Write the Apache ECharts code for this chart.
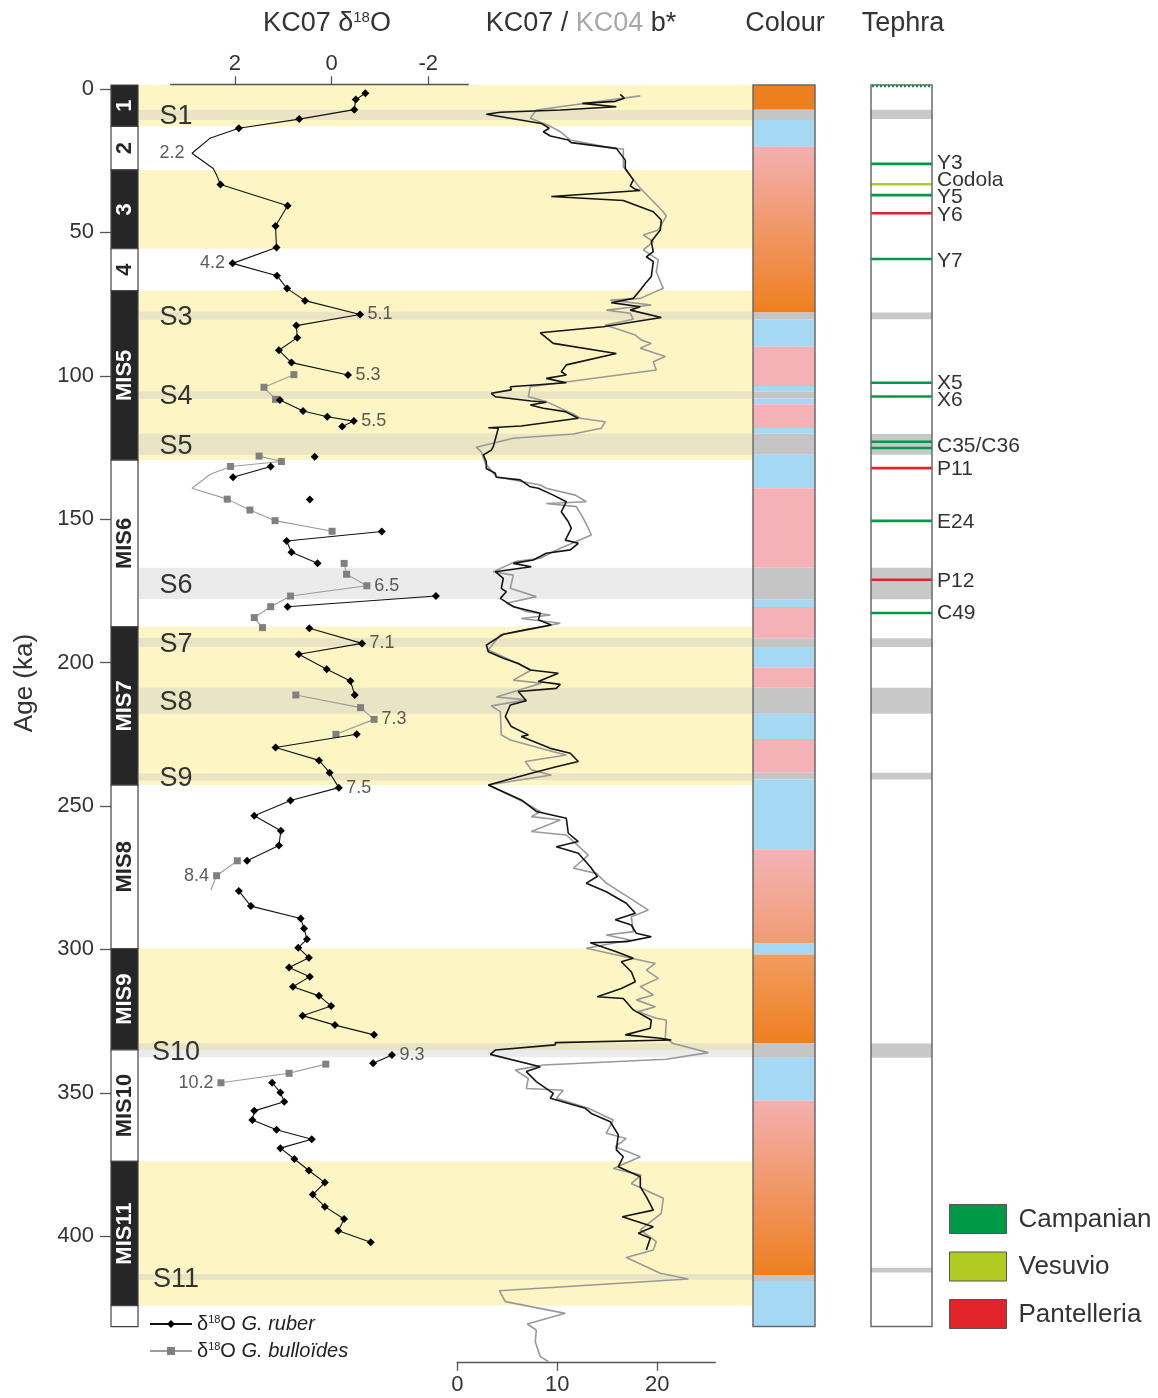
<!DOCTYPE html>
<html>
<head>
<meta charset="utf-8">
<title>KC07 stratigraphy</title>
<script src="https://cdn.jsdelivr.net/npm/echarts@6/dist/echarts.min.js"></script>
<style>
  html, body { margin: 0; padding: 0; background: #fff; }
  #chart { width: 1158px; height: 1398px; }
</style>
</head>
<body>
<div id="chart"></div>
<script>
// ---------- data (ages in ka) ----------
// marine isotope stages
const misLabel  = ['1', '2', '3', '4', 'MIS5', 'MIS6', 'MIS7', 'MIS8', 'MIS9', 'MIS10', 'MIS11', ''];
const misTop    = [-1.4, 13.0, 28.2, 55.7, 70.3, 129.4, 187.5, 242.7, 299.7, 335.0, 373.9, 424.2];
const misBottom = [13.0, 28.2, 55.7, 70.3, 129.4, 187.5, 242.7, 299.7, 335.0, 373.9, 424.2, 431.5];
const misWarm   = [1, 0, 1, 0, 1, 0, 1, 0, 1, 0, 1, 0];

// sapropels
const sapName   = ['S1', 'S3', 'S4', 'S5', 'S6', 'S7', 'S8', 'S9', 'S10', 'S11'];
const sapTop    = [7.3, 77.7, 105.4, 120.2, 166.9, 191.4, 208.8, 238.7, 332.7, 413.2];
const sapBottom = [10.8, 80.5, 108.0, 127.5, 177.8, 194.5, 217.8, 241.0, 337.6, 415.3];

// d18O G. ruber (null = gap in the record)
const ruberAge = [1.5, 3.7, 7.2, 10.5, 13.7, 17.2, 22.4, 27.7, 30.0, 33.3, 40.7, 47.8, 55.3, 60.8, 65.1, 69.6, 73.8, 78.6, 82.5, 86.7, 91.1, 95.4, 99.7, null,
  108.4, 112.3, 114.3, 115.8, 117.7, null, 128.2, null, 131.6, 135.4, null, 143.1, null, 154.3, 157.6, 161.5, 165.4, null, 176.8, 180.5, null,
  188.0, 193.3, 197.1, 202.3, 206.4, 211.3, null, 225.0, 229.6, 234.1, 238.4, 243.6, 248.1, 253.4, 258.6, 263.8, 269.1, null,
  279.6, 284.9, 289.2, 292.7, 296.5, 299.4, 302.9, 306.3, 309.5, 313.0, 316.2, 319.7, 323.1, 326.4, 329.8, null, 336.8, 339.7, null,
  346.5, 349.9, 353.1, 356.3, 359.5, 362.9, 366.2, 369.3, 373.1, 377.1, 381.3, 385.5, 389.7, 394.0, 398.1, 402.1];
const ruberD18O = [-0.70, -0.50, -0.47, 0.67, 1.92, 2.52, 2.89, 2.45, 2.38, 2.30, 0.91, 1.16, 1.14, 2.05, 1.13, 0.92, 0.55, -0.59, 0.73, 0.71, 1.09, 0.83, -0.34, null,
  1.07, 0.59, 0.09, -0.46, -0.22, null, 0.35, null, 1.26, 2.04, null, 0.45, null, -1.04, 0.93, 0.83, 0.29, null, -2.16, 0.91, null,
  0.46, -0.63, 0.68, 0.10, -0.39, -0.48, null, -0.52, 1.16, 0.26, 0.04, -0.15, 0.85, 1.60, 1.05, 1.09, 1.75, null,
  1.92, 1.67, 0.64, 0.57, 0.51, 0.69, 0.47, 0.88, 0.45, 0.80, 0.26, 0.01, 0.60, -0.07, -0.88, null, -1.25, -0.86, null,
  1.23, 1.06, 0.98, 1.60, 1.64, 1.14, 0.41, 1.06, 0.77, 0.47, 0.14, 0.39, 0.14, -0.26, -0.14, -0.81];
const ruberPlain = [17.2, 22.4, 27.7, 30.0];   // vertices drawn without a marker

// d18O G. bulloides
const bullAge  = [99.6, 104.0, 108.2, null, 128.0, 129.9, 131.6, 134.4, 139.2, 143.0, 146.8, 150.5, 154.2, null,
  165.4, 169.2, 173.2, 176.8, 180.5, 184.3, 187.8, null, 211.3, 215.7, 219.8, 225.0, null, 269.1, 274.3, 279.3, null, 340.0, 343.2, 346.5];
const bullD18O = [0.78, 1.40, 1.16, null, 1.50, 1.04, 2.09, 2.52, 2.89, 2.16, 1.69, 1.17, -0.01, null,
  -0.26, -0.31, -0.73, 0.85, 1.26, 1.60, 1.43, null, 0.74, -0.60, -0.88, -0.09, null, 1.95, 2.38, 2.50, null, 0.12, 0.88, 2.29];
const bullPlain = [134.4, 139.2, 279.3];

// substage annotations
const subText = ['2.2', '4.2', '5.1', '5.3', '5.5', '6.5', '7.1', '7.3', '7.5', '8.4', '9.3', '10.2'];
const subAge  = [22.4, 60.8, 78.6, 99.7, 115.8, 173.2, 193.3, 219.8, 243.6, 274.3, 336.8, 346.5];
const subD18O = [2.89, 2.05, -0.59, -0.34, -0.46, -0.73, -0.63, -0.88, -0.15, 2.38, -1.25, 2.29];
const subSide = ['left', 'left', 'right', 'right', 'right', 'right', 'right', 'right', 'right', 'left', 'right', 'left'];

// b* colour reflectance, KC07 (black)
const kc07Age = [1.9, 3.2, 4.3, 5.0, 6.2, 7.3, 8.1, 8.8, 12.0, 13.7, 14.9, 16.4, 17.8, 18.7, 20.7, 24.8, 27.7, 31.7, 33.8, 35.0,
  35.4, 37.5, 38.9, 42.8, 45.7, 49.2, 53.2, 56.7, 58.5, 60.2, 65.4, 67.8, 70.1, 73.0, 74.5, 75.9, 77.1, 79.7, 82.9, 85.0,
  88.7, 92.2, 96.2, 98.6, 99.7, 100.9, 102.4, 103.8, 104.9, 106.1, 107.3, 108.8, 109.2, 110.2, 111.3, 112.5, 114.8, 117.5, 118.1, 118.3,
  124.7, 125.9, 127.6, 129.9, 132.3, 134.0, 135.4, 136.3, 138.7, 139.2, 141.6, 143.9, 147.4, 150.9, 153.2, 157.3, 158.4, 160.7, 161.9, 164.2,
  165.4, 166.6, 168.3, 170.6, 174.1, 175.3, 177.6, 180.5, 182.8, 185.1, 186.9, 188.6, 190.1, 193.9, 196.2, 198.5, 200.3, 202.6, 203.7, 206.6,
  207.6, 209.0, 210.1, 213.3, 214.8, 218.8, 222.3, 225.2, 225.8, 229.9, 231.6, 234.5, 236.3, 238.6, 242.7, 247.9, 251.9, 254.3, 259.5, 262.4,
  264.2, 266.5, 271.2, 274.6, 276.9, 279.9, 283.9, 287.4, 289.7, 291.5, 294.4, 295.6, 297.3, 297.7, 300.8, 303.1, 304.3, 307.8, 311.3, 313.6,
  316.5, 317.1, 321.1, 324.6, 327.5, 329.8, 331.0, 331.6, 332.5, 333.3, 335.1, 336.6, 340.9, 342.6, 346.1, 350.2, 351.9, 355.4, 357.2, 360.1,
  364.7, 369.9, 372.3, 375.8, 379.3, 382.8, 386.2, 390.9, 393.2, 396.7, 399.0, 400.7, 404.8];
const kc07B = [16.3, 16.7, 15.8, 12.5, 15.9, 10.3, 4.3, 2.9, 8.4, 9.2, 8.6, 9.3, 11.1, 11.4, 15.9, 16.8, 16.8, 17.6, 17.3, 17.8,
  18.3, 9.4, 16.6, 19.6, 20.4, 20.3, 19.4, 19.6, 18.9, 19.6, 19.4, 18.8, 18.3, 17.6, 15.4, 18.3, 17.3, 20.4, 14.6, 8.3,
  9.6, 15.9, 10.9, 10.4, 10.9, 8.9, 10.9, 5.3, 5.4, 3.4, 3.8, 7.4, 8.9, 7.3, 8.6, 10.8, 12.1, 6.4, 3.1, 4.1,
  3.6, 3.4, 2.6, 2.9, 2.9, 3.8, 3.9, 6.3, 7.3, 8.1, 9.6, 10.9, 10.4, 11.1, 11.4, 10.8, 12.1, 11.3, 8.9, 7.6,
  5.6, 7.4, 3.8, 4.6, 4.4, 4.9, 4.3, 5.6, 8.3, 8.1, 9.4, 6.8, 4.6, 2.9, 3.1, 4.6, 6.1, 7.3, 10.1, 8.1,
  10.3, 9.9, 6.1, 6.9, 5.3, 4.8, 5.4, 7.1, 6.4, 9.3, 11.3, 12.1, 9.9, 7.4, 3.1, 6.4, 7.9, 10.9, 11.1, 12.1,
  9.9, 12.1, 13.3, 14.0, 12.9, 14.9, 16.9, 17.8, 15.8, 17.4, 17.9, 19.4, 16.9, 13.3, 15.9, 17.6, 16.4, 17.4, 17.8, 16.4,
  14.0, 16.6, 17.6, 19.4, 19.3, 16.8, 20.3, 21.4, 9.8, 9.8, 3.8, 3.3, 8.3, 6.9, 7.9, 9.6, 9.3, 12.8, 13.4, 15.3,
  16.1, 15.9, 16.6, 16.1, 18.3, 18.3, 18.9, 19.6, 16.5, 19.6, 18.1, 19.3, 18.9];

// b* colour reflectance, KC04 (grey)
const kc04Age = [2.4, 7.3, 10.2, 12.6, 14.9, 17.8, 20.7, 20.9, 27.1, 34.6, 42.8, 44.3, 49.2, 50.9, 53.2, 56.1, 59.6, 63.7, 69.5, 73.0,
  73.6, 75.3, 77.1, 78.2, 80.3, 82.3, 85.8, 87.5, 88.7, 90.4, 93.3, 95.1, 98.0, 103.8, 107.3, 109.0, 113.7, 114.8, 116.0, 118.3,
  120.3, 121.8, 124.9, 126.5, 130.5, 135.2, 138.1, 139.2, 141.6, 143.9, 144.5, 145.6, 149.7, 153.2, 155.5, 157.8, 160.1, 163.6, 164.8, 168.3,
  169.5, 174.1, 177.0, 179.3, 182.2, 183.4, 184.6, 186.3, 188.6, 190.4, 195.6, 198.5, 202.6, 206.1, 207.2, 212.0, 213.0, 215.1, 217.1, 225.2,
  227.0, 231.1, 232.2, 234.5, 237.4, 239.2, 242.7, 248.5, 252.0, 253.7, 254.9, 258.9, 260.1, 267.1, 271.7, 273.5, 276.9, 282.2, 286.3, 288.6,
  293.8, 295.0, 296.7, 299.6, 304.9, 307.2, 310.1, 313.0, 315.9, 317.6, 320.0, 321.7, 324.0, 324.6, 331.0, 332.8, 336.0, 338.3, 340.3, 342.1,
  345.0, 348.5, 349.1, 351.9, 355.4, 359.5, 364.1, 365.9, 368.8, 372.3, 376.4, 378.7, 381.6, 386.8, 392.0, 397.8, 401.9, 404.8, 407.4, 412.9,
  414.9, 419.0, 422.8, 426.9, 430.6, 432.7, 436.8, 442.0, 443.7];
const kc04B = [18.3, 7.9, 7.3, 9.1, 10.3, 11.3, 15.6, 16.6, 16.6, 18.3, 20.6, 20.9, 20.1, 18.6, 19.6, 18.6, 20.1, 19.9, 20.6, 18.3,
  15.3, 19.4, 14.9, 17.3, 17.6, 14.8, 17.8, 18.4, 19.4, 18.3, 20.8, 19.6, 19.9, 7.3, 7.1, 8.9, 11.8, 12.3, 14.8, 14.4,
  11.6, 5.6, 1.9, 2.4, 2.8, 3.9, 8.3, 8.9, 11.8, 12.9, 8.9, 11.9, 12.6, 13.1, 13.4, 11.9, 10.3, 8.3, 5.8, 3.6,
  5.6, 5.3, 7.9, 4.9, 6.9, 9.3, 6.4, 10.3, 6.9, 4.3, 3.1, 4.9, 7.4, 5.6, 8.4, 3.9, 6.9, 3.4, 4.3, 4.4,
  5.3, 9.6, 10.9, 6.8, 7.4, 9.4, 3.1, 6.6, 8.3, 7.4, 10.3, 7.4, 10.9, 13.1, 11.6, 13.9, 14.9, 17.3, 19.1, 17.4,
  17.6, 14.9, 17.3, 12.9, 19.8, 18.9, 20.1, 18.3, 19.6, 17.9, 19.8, 18.1, 19.9, 20.9, 20.8, 21.6, 25.1, 20.9, 8.6, 5.8,
  7.1, 6.9, 10.6, 9.9, 13.1, 15.6, 14.9, 16.9, 15.8, 18.3, 15.6, 18.4, 17.4, 20.6, 20.4, 18.3, 19.9, 19.6, 16.9, 20.3,
  23.1, 4.2, 4.8, 10.8, 7.0, 7.9, 7.8, 8.3, 9.1];

// sediment colour log (each unit runs to the next top)
const colourTop  = [-1.4, 7.2, 10.8, 20.1, 77.9, 80.3, 89.9, 103.6, 105.5, 107.9, 109.9, 118.2, 120.2, 127.5, 139.2, 166.9, 177.9,
  180.6, 191.5, 194.6, 201.7, 208.8, 217.8, 226.6, 238.4, 240.8, 265.1, 297.8, 301.8, 332.8, 337.8, 352.7, 413.6, 415.6];
const colourKind = ['orange', 'grey', 'blue', 'pinkOrange', 'grey', 'blue', 'pink', 'blue', 'grey', 'blue', 'pink', 'blue', 'grey', 'blue',
  'pink', 'grey', 'blue', 'pink', 'grey', 'blue', 'pink', 'grey', 'blue', 'pink', 'grey', 'blue', 'pinkSalmon', 'blue', 'salmonOrange',
  'grey', 'blue', 'pinkOrange', 'grey', 'blue'];

// tephra layers
const tephraAge    = [26.1, 33.2, 37.0, 43.3, 59.3, 102.4, 107.2, 123.0, 125.2, 132.2, 150.6, 171.1, 182.7];
const tephraSource = [0, 1, 0, 2, 0, 0, 0, 0, 0, 2, 0, 2, 0];
const tephraLabel    = ['Y3', 'Codola', 'Y5', 'Y6', 'Y7', 'X5', 'X6', 'C35/C36', 'P11', 'E24', 'P12', 'C49'];
const tephraLabelAge = [26.0, 31.9, 37.7, 43.9, 60.0, 102.5, 108.4, 124.5, 132.5, 151.0, 171.5, 182.7];
const tephraGreyTop    = [7.2, 77.9, 120.3, 166.9, 191.5, 208.8, 238.4, 332.8, 411.0];
const tephraGreyBottom = [10.5, 80.3, 127.5, 177.9, 194.6, 217.8, 240.8, 337.8, 412.7];
const sourceName  = ['Campanian', 'Vesuvio', 'Pantelleria'];
const sourceColor = ['#009a46', '#b2cb22', '#e3232a'];

// axis ticks
const ageTicks = [0, 50, 100, 150, 200, 250, 300, 350, 400];
const d18OTicks = [-2, 0, 2];
const bTicks = [0, 10, 20];

// ---------- layout ----------
const FONT = '"Liberation Sans", Arial, Helvetica, sans-serif';
const AGE0_Y = 89;          // pixel row of age 0
const PX_PER_KA = 2.868;    // vertical scale shared by all panels
const COL_TOP = -1.4, COL_BOTTOM = 431.5;

function gridFor(left, width, ageTop, ageBottom) {
  return { left: left, width: width, top: AGE0_Y + PX_PER_KA * ageTop,
    height: PX_PER_KA * (ageBottom - ageTop), outerBoundsMode: 'none', containLabel: false };
}
function yFor(g, a0, a1, extra) {
  return Object.assign({ gridIndex: g, type: 'value', inverse: true, min: a0, max: a1, show: false }, extra || {});
}
function hiddenX(g) { return { gridIndex: g, type: 'value', min: 0, max: 1, show: false }; }

function rectBetween(api, x0, x1, a0, a1) {
  const p0 = api.coord([x0, a0]), p1 = api.coord([x1, a1]);
  return { x: p0[0], y: p0[1], width: p1[0] - p0[0], height: p1[1] - p0[1] };
}

function splitSegments(ages, vals, plain) {
  const segs = [];
  let cur = [];
  for (let i = 0; i < ages.length; i++) {
    if (ages[i] === null) { if (cur.length) segs.push(cur); cur = []; continue; }
    const item = { value: [vals[i], ages[i]] };
    if (plain.indexOf(ages[i]) >= 0) item.symbol = 'none';
    cur.push(item);
  }
  if (cur.length) segs.push(cur);
  return segs;
}

function grad(a, b) {
  return new echarts.graphic.LinearGradient(0, 0, 0, 1, [{ offset: 0, color: a }, { offset: 1, color: b }]);
}
const colourFill = {
  orange: '#ee7f1e',
  grey: '#c5c5c5',
  blue: '#a5d8f3',
  pink: '#f4b2b7',
  pinkOrange: grad('#f3afb0', '#ee7f1e'),
  pinkSalmon: grad('#f4b3b7', '#f09c72'),
  salmonOrange: grad('#f29c60', '#ee7f1e')
};

const chart = echarts.init(document.getElementById('chart'));

const series = [];

// MIS column
series.push({
  type: 'custom', xAxisIndex: 0, yAxisIndex: 0, z: 3, silent: true,
  data: misTop.map((t, i) => [0.5, t, misBottom[i]]),
  encode: { x: 0, y: [1, 2] },
  renderItem: (params, api) => {
    const i = params.dataIndex;
    const s = rectBetween(api, 0, 1, misTop[i], misBottom[i]);
    return { type: 'group', children: [
      { type: 'rect', shape: s, style: { fill: misWarm[i] ? '#262626' : '#fff', stroke: '#444', lineWidth: 1.2 } },
      { type: 'text', x: s.x + s.width / 2, y: s.y + s.height / 2, rotation: Math.PI / 2,
        style: { text: misLabel[i], fill: misWarm[i] ? '#fff' : '#262626', fontSize: 22, fontWeight: 'bold',
          fontFamily: FONT, align: 'center', verticalAlign: 'middle' } }
    ] };
  }
});

// interglacial bands
const warmIdx = misWarm.map((w, i) => w ? i : -1).filter(i => i >= 0);
series.push({
  type: 'custom', xAxisIndex: 1, yAxisIndex: 1, z: 1, silent: true,
  data: warmIdx.map(i => [0.5, misTop[i], misBottom[i]]),
  encode: { x: 0, y: [1, 2] },
  renderItem: (params, api) => ({
    type: 'rect', shape: rectBetween(api, 0, 1, api.value(1), api.value(2)), style: { fill: '#fdf5c4' }
  })
});

// sapropel bands with labels
series.push({
  type: 'custom', xAxisIndex: 1, yAxisIndex: 1, z: 2, silent: true,
  data: sapTop.map((t, i) => [0.5, t, sapBottom[i]]),
  encode: { x: 0, y: [1, 2] },
  renderItem: (params, api) => {
    const i = params.dataIndex;
    const s = rectBetween(api, 0, 1, sapTop[i], sapBottom[i]);
    return { type: 'group', children: [
      { type: 'rect', shape: s, style: { fill: 'rgba(195,195,195,0.33)' } },
      { type: 'text', x: s.x + 37, y: s.y + s.height / 2 + 2,
        style: { text: sapName[i], fill: '#333', fontSize: 27, fontFamily: FONT, align: 'center', verticalAlign: 'middle' } }
    ] };
  }
});

// d18O curves
splitSegments(bullAge, bullD18O, bullPlain).forEach(seg => series.push({
  type: 'line', name: 'bulloides', xAxisIndex: 2, yAxisIndex: 2, z: 6, silent: true,
  data: seg, symbol: 'rect', symbolSize: 7, showSymbol: true,
  lineStyle: { color: '#9b9b9b', width: 1.1 }, itemStyle: { color: '#808080' }
}));
splitSegments(ruberAge, ruberD18O, ruberPlain).forEach(seg => series.push({
  type: 'line', name: 'ruber', xAxisIndex: 2, yAxisIndex: 2, z: 7, silent: true,
  data: seg, symbol: 'diamond', symbolSize: 8, showSymbol: true,
  lineStyle: { color: '#111', width: 1.1 }, itemStyle: { color: '#000' }
}));

// substage labels
series.push({
  type: 'scatter', name: 'substage', xAxisIndex: 2, yAxisIndex: 2, z: 8, silent: true,
  symbolSize: 1, itemStyle: { color: 'rgba(0,0,0,0)' },
  data: subText.map((t, i) => ({ name: t, value: [subD18O[i], subAge[i]], label: { position: subSide[i] } })),
  label: { show: true, formatter: p => p.name, distance: 7, fontSize: 18, color: '#333', fontFamily: FONT }
});

// b* curves
series.push({
  type: 'line', name: 'KC04', xAxisIndex: 3, yAxisIndex: 3, z: 5, silent: true, symbol: 'none',
  data: kc04Age.map((a, i) => [kc04B[i], a]), lineStyle: { color: '#999', width: 1.6 }
});
series.push({
  type: 'line', name: 'KC07', xAxisIndex: 3, yAxisIndex: 3, z: 5, silent: true, symbol: 'none',
  data: kc07Age.map((a, i) => [kc07B[i], a]), lineStyle: { color: '#141414', width: 1.6 }
});

// colour log
series.push({
  type: 'custom', xAxisIndex: 4, yAxisIndex: 4, z: 3, silent: true,
  data: colourTop.map((t, i) => [0.5, t, i + 1 < colourTop.length ? colourTop[i + 1] : COL_BOTTOM]),
  encode: { x: 0, y: [1, 2] },
  renderItem: (params, api) => ({
    type: 'rect', shape: rectBetween(api, 0, 1, api.value(1), api.value(2)),
    style: { fill: colourFill[colourKind[params.dataIndex]] }
  })
});

// tephra grey intervals
series.push({
  type: 'custom', xAxisIndex: 5, yAxisIndex: 5, z: 3, silent: true,
  data: tephraGreyTop.map((t, i) => [0.5, t, tephraGreyBottom[i]]),
  encode: { x: 0, y: [1, 2] },
  renderItem: (params, api) => ({
    type: 'rect', shape: rectBetween(api, 0, 1, api.value(1), api.value(2)), style: { fill: '#c8c8c8' }
  })
});
// tephra layers
series.push({
  type: 'custom', xAxisIndex: 5, yAxisIndex: 5, z: 4, silent: true,
  data: tephraAge.map(a => [0.5, a]),
  encode: { x: 0, y: 1 },
  renderItem: (params, api) => {
    const p0 = api.coord([0, api.value(1)]), p1 = api.coord([1, api.value(1)]);
    return { type: 'line', shape: { x1: p0[0], y1: p0[1], x2: p1[0], y2: p1[1] },
      style: { stroke: sourceColor[tephraSource[params.dataIndex]], lineWidth: 2.6 } };
  }
});
// tephra names
series.push({
  type: 'custom', xAxisIndex: 5, yAxisIndex: 5, z: 4, silent: true,
  data: tephraLabelAge.map(a => [1, a]),
  encode: { x: 0, y: 1 },
  renderItem: (params, api) => {
    const p = api.coord([1, api.value(1)]);
    return { type: 'text', x: p[0] + 5, y: p[1],
      style: { text: tephraLabel[params.dataIndex], fill: '#333', fontSize: 21, fontFamily: FONT, align: 'left', verticalAlign: 'middle' } };
  }
});

// frames of the colour and tephra columns
[4, 5].forEach(g => series.push({
  type: 'custom', xAxisIndex: g, yAxisIndex: g, z: 9, silent: true,
  data: [[0.5, COL_TOP, COL_BOTTOM]],
  encode: { x: 0, y: [1, 2] },
  renderItem: (params, api) => {
    const s = rectBetween(api, 0, 1, COL_TOP, COL_BOTTOM);
    const kids = [{ type: 'rect', shape: s, style: { fill: 'none', stroke: '#6a6a6a', lineWidth: 1.5 } }];
    if (g === 5) {
      kids.push({ type: 'line', shape: { x1: s.x + 1, y1: s.y + 1, x2: s.x + s.width - 1, y2: s.y + 1 },
        style: { stroke: sourceColor[0], lineWidth: 2.5, lineDash: [2, 2] } });
    }
    return { type: 'group', children: kids };
  }
}));

const axisGrey = '#555';
const option = {
  animation: false,
  backgroundColor: '#fff',
  grid: [
    gridFor(111, 27, COL_TOP, COL_BOTTOM),     // 0 MIS column + age axis
    gridFor(139, 613, COL_TOP, COL_BOTTOM),    // 1 background bands
    gridFor(170.7, 297.6, -1.65, COL_BOTTOM),  // 2 d18O
    gridFor(457.3, 258, COL_TOP, 443.8),       // 3 b*
    gridFor(753, 62, COL_TOP, COL_BOTTOM),     // 4 colour
    gridFor(871, 61, COL_TOP, COL_BOTTOM)      // 5 tephra
  ],
  xAxis: [
    hiddenX(0), hiddenX(1),
    { gridIndex: 2, type: 'value', position: 'top', inverse: true, min: -2.83, max: 3.33, z: 10,
      axisLine: { show: true, onZero: false, lineStyle: { color: axisGrey, width: 1.3 } },
      axisTick: { show: true, customValues: d18OTicks, length: 8, lineStyle: { color: axisGrey, width: 1.3 } },
      axisLabel: { show: true, customValues: d18OTicks, fontSize: 22, color: '#333', fontFamily: FONT, margin: 9 },
      splitLine: { show: false } },
    { gridIndex: 3, type: 'value', position: 'bottom', min: 0, max: 25.8, z: 10,
      axisLine: { show: true, onZero: false, lineStyle: { color: axisGrey, width: 1.3 } },
      axisTick: { show: true, customValues: bTicks, length: 9, lineStyle: { color: axisGrey, width: 1.3 } },
      axisLabel: { show: true, customValues: bTicks, fontSize: 22, color: '#333', fontFamily: FONT, margin: 12 },
      splitLine: { show: false } },
    hiddenX(4), hiddenX(5)
  ],
  yAxis: [
    yFor(0, COL_TOP, COL_BOTTOM, {
      show: true, position: 'left',
      axisLine: { show: false, onZero: false },
      axisTick: { show: true, customValues: ageTicks, length: 11, lineStyle: { color: axisGrey, width: 1.3 } },
      axisLabel: { show: true, customValues: ageTicks, fontSize: 22, color: '#333', fontFamily: FONT, margin: 17 },
      splitLine: { show: false }
    }),
    yFor(1, COL_TOP, COL_BOTTOM),
    yFor(2, -1.65, COL_BOTTOM),
    yFor(3, COL_TOP, 443.8),
    yFor(4, COL_TOP, COL_BOTTOM),
    yFor(5, COL_TOP, COL_BOTTOM)
  ],
  legend: {
    data: ['ruber', 'bulloides'], orient: 'vertical', left: 149, top: 1314, padding: 0,
    itemWidth: 42, itemHeight: 10, itemGap: 7, selectedMode: false,
    formatter: n => '{t|δ}{s|18}{t|O }{i|G. ' + (n === 'ruber' ? 'ruber' : 'bulloïdes') + '}',
    textStyle: {
      rich: {
        t: { fontSize: 20, color: '#222', fontFamily: FONT },
        s: { fontSize: 11, color: '#222', fontFamily: FONT, verticalAlign: 'top' },
        i: { fontSize: 20, color: '#222', fontFamily: FONT, fontStyle: 'italic' }
      }
    }
  },
  graphic: [
    { type: 'text', x: 327, y: 24, style: { text: '{a|KC07 δ}{s|18}{a|O}', align: 'center', verticalAlign: 'middle',
      rich: { a: { fontSize: 27, fontFamily: FONT, fill: '#333' }, s: { fontSize: 15, fontFamily: FONT, fill: '#333', verticalAlign: 'top' } } } },
    { type: 'text', x: 581, y: 24, style: { text: '{a|KC07 / }{g|KC04}{a| b*}', align: 'center', verticalAlign: 'middle',
      rich: { a: { fontSize: 27, fontFamily: FONT, fill: '#333' }, g: { fontSize: 27, fontFamily: FONT, fill: '#a8a8a8' } } } },
    { type: 'text', x: 785, y: 24, style: { text: 'Colour', fontSize: 27, fontFamily: FONT, fill: '#333', align: 'center', verticalAlign: 'middle' } },
    { type: 'text', x: 903, y: 24, style: { text: 'Tephra', fontSize: 27, fontFamily: FONT, fill: '#333', align: 'center', verticalAlign: 'middle' } },
    { type: 'text', x: 25, y: 683, rotation: Math.PI / 2,
      style: { text: 'Age (ka)', fontSize: 26, fontFamily: FONT, fill: '#333', align: 'center', verticalAlign: 'middle' } }
  ].concat(sourceName.map((n, i) => ({
    type: 'group', left: 949, top: 1204 + i * 47.5, children: [
      { type: 'rect', shape: { x: 0, y: 0, width: 57, height: 29 }, style: { fill: sourceColor[i], stroke: '#555', lineWidth: 1 } },
      { type: 'text', x: 69, y: 15, style: { text: n, fontSize: 26, fontFamily: FONT, fill: '#333', verticalAlign: 'middle' } }
    ]
  }))),
  series: series
};

chart.setOption(option);
</script>
</body>
</html>
